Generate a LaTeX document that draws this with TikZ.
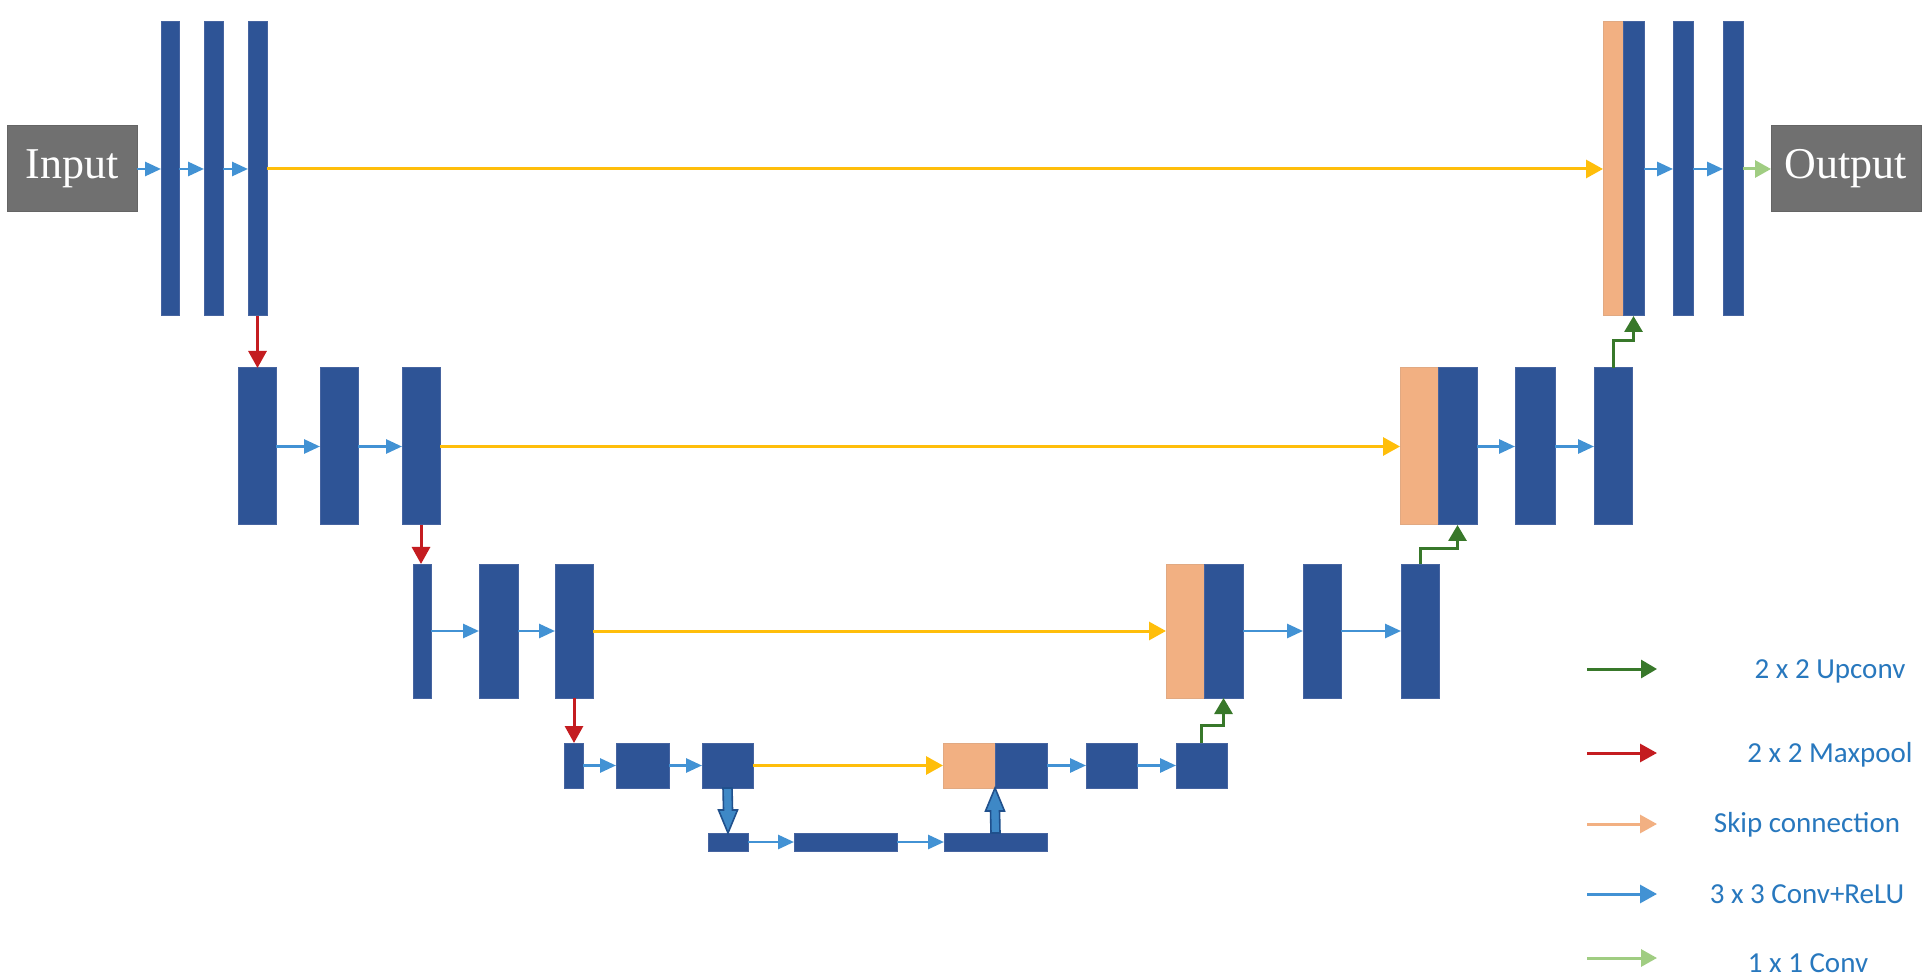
\documentclass[tikz,border=0pt]{standalone}
\usepackage{fontspec}
\setmainfont{Liberation Serif}
\newfontfamily\legfont{Carlito}
\usetikzlibrary{arrows.meta,calc}
\definecolor{barblue}{RGB}{46,84,150}
\definecolor{baredge}{RGB}{70,100,160}
\definecolor{skiporange}{RGB}{242,176,130}
\definecolor{skipyellow}{RGB}{255,190,10}
\definecolor{convblue}{RGB}{66,146,212}
\definecolor{poolred}{RGB}{196,28,32}
\definecolor{updark}{RGB}{56,120,42}
\definecolor{onegreen}{RGB}{160,205,130}
\definecolor{iobox}{RGB}{112,112,112}
\definecolor{legtext}{RGB}{40,120,190}
\definecolor{fatfill}{RGB}{62,136,198}
\definecolor{fatedge}{RGB}{32,80,140}
\newcommand\blk[6]{\node[#1, minimum width={(#5-#3)*0.5pt}, minimum height={(#6-#4)*0.5pt}] (#2) at ({(#3+#5)/2},{(#4+#6)/2}) {};}
\begin{document}
\begin{tikzpicture}[x=0.5pt,y=-0.5pt,
  bar/.style={fill=barblue, draw=baredge, line width=0.5pt, inner sep=0pt, outer sep=0pt},
  orbar/.style={fill=skiporange, draw=skiporange!85!gray, line width=0.5pt, inner sep=0pt, outer sep=0pt},
  iobx/.style={fill=iobox, draw=iobox!90!black, line width=0.5pt, inner sep=0pt, outer sep=0pt},
  conv/.style={draw=convblue, line width=1.4pt, -{Triangle[length=8pt,width=7pt]}},
  skip/.style={draw=skipyellow, line width=1.5pt, -{Triangle[length=8.5pt,width=9pt]}},
  pool/.style={draw=poolred, line width=1.5pt, -{Triangle[length=8.5pt,width=9pt]}},
  upc/.style={draw=updark, line width=1.5pt, -{Triangle[length=8pt,width=9pt]}},
  onec/.style={draw=onegreen, line width=1.5pt, -{Triangle[length=8pt,width=8.5pt]}},
  fat/.style={fill=fatfill, draw=fatedge, line width=0.8pt, line join=miter},
  leg/.style={text=legtext, font=\legfont\fontsize{14.5}{17}\selectfont, anchor=base, inner sep=0pt}
]
\path[use as bounding box, fill=white] (0,0) rectangle (1930,977);

% Input / Output
\blk{iobx}{in}{7}{126}{137}{212}
\node at (in.center) {\textcolor{white}{\fontsize{22}{26}\selectfont Input}};
\blk{iobx}{out}{1771}{126}{1921}{212}
\node at (out.center) {\textcolor{white}{\fontsize{22}{26}\selectfont Output}};

% Level 1
\blk{bar}{a1}{161}{22}{179}{316}
\blk{bar}{a2}{204}{22}{223}{316}
\blk{bar}{a3}{248}{22}{267}{316}
\blk{orbar}{u1o}{1603}{22}{1623}{316}
\blk{bar}{u1b}{1623}{22}{1644}{316}
\blk{bar}{c1}{1673}{22}{1693}{316}
\blk{bar}{c2}{1723}{22}{1743}{316}

% Level 2
\blk{bar}{b1}{238}{368}{276}{525}
\blk{bar}{b2}{320}{368}{358}{525}
\blk{bar}{b3}{402}{368}{440}{525}
\blk{orbar}{u2o}{1400}{368}{1438}{525}
\blk{bar}{u2b}{1438}{368}{1477}{525}
\blk{bar}{d1}{1515}{368}{1555}{525}
\blk{bar}{d2}{1594}{368}{1632}{525}

% Level 3
\blk{bar}{l3a}{413}{564}{431}{698}
\blk{bar}{l3b}{479}{564}{518}{698}
\blk{bar}{l3c}{555}{564}{593}{698}
\blk{orbar}{u3o}{1166}{564}{1204}{698}
\blk{bar}{u3b}{1204}{564}{1243}{698}
\blk{bar}{e1}{1303}{564}{1341}{698}
\blk{bar}{e2}{1401}{564}{1439}{698}

% Level 4
\blk{bar}{l4a}{564}{743}{583}{788}
\blk{bar}{l4b}{616}{743}{669}{788}
\blk{bar}{l4c}{702}{743}{753}{788}
\blk{orbar}{u4o}{943}{743}{995}{788}
\blk{bar}{u4b}{995}{743}{1047}{788}
\blk{bar}{f1}{1086}{743}{1137}{788}
\blk{bar}{f2}{1176}{743}{1227}{788}

% Bottom
\blk{bar}{g1}{708}{833}{748}{851}
\blk{bar}{g2}{794}{833}{897}{851}
\blk{bar}{g3}{944}{833}{1047}{851}

% Level 1 connectors
\draw[conv] (in.east) -- (a1.west);
\draw[conv] (a1.east) -- (a2.west);
\draw[conv] (a2.east) -- (a3.west);
\draw[skip] (a3.east) -- (u1o.west);
\draw[conv] (u1b.east) -- (c1.west);
\draw[conv] (c1.east) -- (c2.west);
\draw[onec] (c2.east) -- (out.west);
\draw[pool] (a3.south) -- (a3.south |- b1.north);

% Level 2 connectors
\draw[conv] (b1.east) -- (b2.west);
\draw[conv] (b2.east) -- (b3.west);
\draw[skip] (b3.east) -- (u2o.west);
\draw[conv] (u2b.east) -- (d1.west);
\draw[conv] (d1.east) -- (d2.west);
\draw[upc] (d2.north) |- ($(u1b.south)+(0,25)$) -- (u1b.south);
\draw[pool] (b3.south) -- (b3.south |- l3a.north);

% Level 3 connectors
\draw[conv] (l3a.east) -- (l3b.west);
\draw[conv] (l3b.east) -- (l3c.west);
\draw[skip] (l3c.east) -- (u3o.west);
\draw[conv] (u3b.east) -- (e1.west);
\draw[conv] (e1.east) -- (e2.west);
\draw[upc] (e2.north) |- ($(u2b.south)+(0,24)$) -- (u2b.south);
\draw[pool] (l3c.south) -- (l3c.south |- l4a.north);

% Level 4 connectors
\draw[conv] (l4a.east) -- (l4b.west);
\draw[conv] (l4b.east) -- (l4c.west);
\draw[skip] (l4c.east) -- (u4o.west);
\draw[conv] (u4b.east) -- (f1.west);
\draw[conv] (f1.east) -- (f2.west);
\draw[upc] (f2.north) |- ($(u3b.south)+(0,27)$) -- (u3b.south);

% Bottom connectors
\draw[conv] (g1.east) -- (g2.west);
\draw[conv] (g2.east) -- (g3.west);
\draw[fat] ($(l4c.south)+(-4.5,0)$) -- ($(g1.north)+(-4.5,-23)$) -- ($(g1.north)+(-9.5,-23)$) -- (g1.north)
  -- ($(g1.north)+(9.5,-23)$) -- ($(g1.north)+(4.5,-23)$) -- ($(l4c.south)+(4.5,0)$) -- cycle;
\draw[fat] ($(g3.north)+(-4.5,0)$) -- ($(u4b.south west)+(-4.5,23)$) -- ($(u4b.south west)+(-9.5,23)$) -- (u4b.south west)
  -- ($(u4b.south west)+(9.5,23)$) -- ($(u4b.south west)+(4.5,23)$) -- ($(g3.north)+(4.5,0)$) -- cycle;

% Legend
\coordinate (k1s) at (1587,669); \coordinate (k1e) at (1657,669);
\coordinate (k2s) at (1587,753); \coordinate (k2e) at (1657,753);
\coordinate (k3s) at (1587,824); \coordinate (k3e) at (1657,824);
\coordinate (k4s) at (1587,894); \coordinate (k4e) at (1657,894);
\coordinate (k5s) at (1587,958); \coordinate (k5e) at (1657,958);
\draw[upc] (k1s) -- (k1e);
\draw[pool] (k2s) -- (k2e);
\draw[draw=skiporange, line width=1.5pt, -{Triangle[length=8.5pt,width=9pt]}] (k3s) -- (k3e);
\draw[conv, line width=1.5pt, -{Triangle[length=8.5pt,width=9pt]}] (k4s) -- (k4e);
\draw[onec] (k5s) -- (k5e);
\node[leg] (t1) at (1830,678) {2 x 2 Upconv};
\node[leg] (t2) at (1830,762) {2 x 2 Maxpool};
\node[leg] (t3) at (1807,832) {Skip connection};
\node[leg] (t4) at (1807,903) {3 x 3 Conv+ReLU};
\node[leg] (t5) at (1808,972) {1 x 1 Conv};
\end{tikzpicture}
\end{document}
